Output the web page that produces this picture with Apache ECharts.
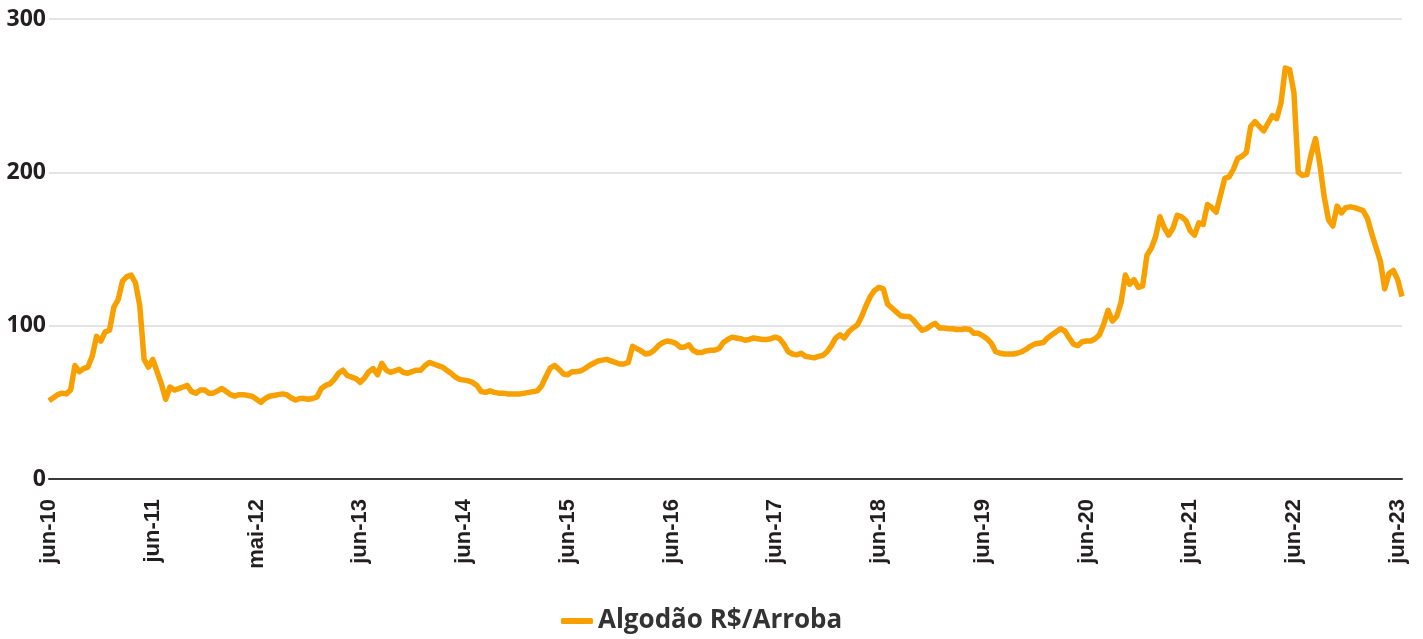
<!DOCTYPE html>
<html>
<head>
<meta charset="utf-8">
<script src="https://cdn.jsdelivr.net/npm/echarts@6/dist/echarts.min.js"></script>
<style>
  html, body { margin: 0; padding: 0; background: #fff; }
  #main { width: 1423px; height: 639px; }
</style>
</head>
<body>
<div id="main"></div>
<script>
// labels shown every 24 half-month points
const tickLabels = ['jun-10', 'jun-11', 'mai-12', 'jun-13', 'jun-14', 'jun-15', 'jun-16',
    'jun-17', 'jun-18', 'jun-19', 'jun-20', 'jun-21', 'jun-22', 'jun-23'];

// Algodão R$/arroba, two readings per month
const algodao = [
    51, 53, 55, 56, 55.5, 58, 74, 70, 72, 73, 80, 93, 90, 96, 97, 112, 117, 129, 132, 133, 128, 113, 78, 73,
    78, 70, 62, 52, 60, 58, 59, 60, 61, 57, 56, 58, 58, 56, 56, 57.5, 59, 57, 55, 54, 55, 55, 54.5, 54,
    52, 50, 52.5, 54, 54.5, 55, 55.5, 55, 53, 51.5, 52.5, 52.5, 52, 52.5, 53.5, 59, 61, 62, 65, 69, 71, 67.5, 66.5, 65.5,
    63, 66, 70, 72, 68, 75.5, 71, 69.5, 70.5, 71.5, 69.5, 69, 70, 71, 71, 74, 76, 75, 74, 73, 71, 69, 66.5, 65,
    64.5, 64, 63, 61, 57, 56.5, 57.5, 56.5, 56, 56, 55.5, 55.5, 55.5, 55.5, 56, 56.5, 57, 57.5, 61, 67, 72.5, 74, 71.5, 68.5,
    68, 70, 70, 70.5, 72, 74, 75.5, 77, 77.5, 78, 77, 76, 75, 75, 76, 86.5, 85, 83.5, 81.5, 82, 84, 87, 89, 90,
    89.5, 88.5, 86, 86, 87.5, 84, 82.5, 82.5, 83.5, 84, 84, 85, 89, 91, 92.5, 92, 91.5, 90.5, 91, 92, 91.5, 91, 91, 91.5,
    92.5, 91.5, 88, 83, 81.5, 81, 82, 80, 79.5, 79, 80, 80.5, 83, 87, 92, 94, 92, 96, 98.5, 100.5, 106, 113, 119, 123,
    125, 124, 114, 111.5, 109, 106.5, 106, 106, 103.5, 100, 97, 98, 100, 101.5, 98.5, 98.5, 98, 98, 97.5, 97.5, 98, 97.5, 95, 95,
    93.5, 91.5, 88.5, 83, 82, 81.5, 81.5, 81.5, 82, 83, 84.5, 86.5, 88, 88.5, 89, 92, 94, 96, 98, 96.5, 92, 88, 87, 89.5,
    90, 90, 91.5, 94, 101, 110, 103, 106, 115, 133, 127, 130, 125, 126, 146, 150.5, 158, 171, 164, 159, 163.5, 172, 171, 168.5,
    162, 159, 167, 166, 179, 177, 174, 185, 196, 197, 202, 209, 210.5, 213, 230, 233, 230, 227, 232, 237, 235, 245, 268, 267,
    252, 200, 198, 198.5, 212, 222, 205, 184, 169, 165, 178, 173.5, 177, 177.5, 177, 176, 175, 170, 160, 151, 142, 124, 134, 136,
    130, 119
];

const periods = algodao.map((v, i) => String(i));

const chart = echarts.init(document.getElementById('main'));
chart.setOption({
    animation: false,
    grid: { left: 49, right: 21, top: 19, bottom: 160, containLabel: false },
    legend: {
        bottom: 0,
        left: 556,
        icon: 'roundRect',
        itemWidth: 32,
        itemHeight: 6,
        itemGap: 10,
        textStyle: { fontFamily: 'Open Sans', fontWeight: 'bold', fontSize: 26, color: '#333' },
        data: ['Algodão R$/Arroba']
    },
    xAxis: {
        type: 'category',
        data: periods,
        boundaryGap: false,
        axisLine: { lineStyle: { color: '#3a3a3a', width: 2 } },
        axisTick: { show: false },
        axisLabel: {
            rotate: 90,
            margin: 20,
            interval: (idx) => idx % 24 === 0,
            formatter: (v, idx) => tickLabels[idx / 24],
            fontFamily: 'Liberation Sans',
            fontWeight: 'bold',
            fontSize: 22,
            color: '#231f20'
        }
    },
    yAxis: {
        type: 'value',
        min: 0,
        max: 300,
        interval: 100,
        axisLine: { show: false },
        axisTick: { show: false },
        splitLine: { lineStyle: { color: '#e3e3e3', width: 2 } },
        axisLabel: {
            margin: 3,
            fontFamily: 'Open Sans',
            fontWeight: 'bold',
            fontSize: 23,
            color: '#231f20'
        }
    },
    series: [{
        name: 'Algodão R$/Arroba',
        type: 'line',
        data: algodao,
        showSymbol: false,
        color: '#f7a000',
        lineStyle: { width: 5.5, color: '#f7a000', join: 'round' }
    }]
});
</script>
</body>
</html>
